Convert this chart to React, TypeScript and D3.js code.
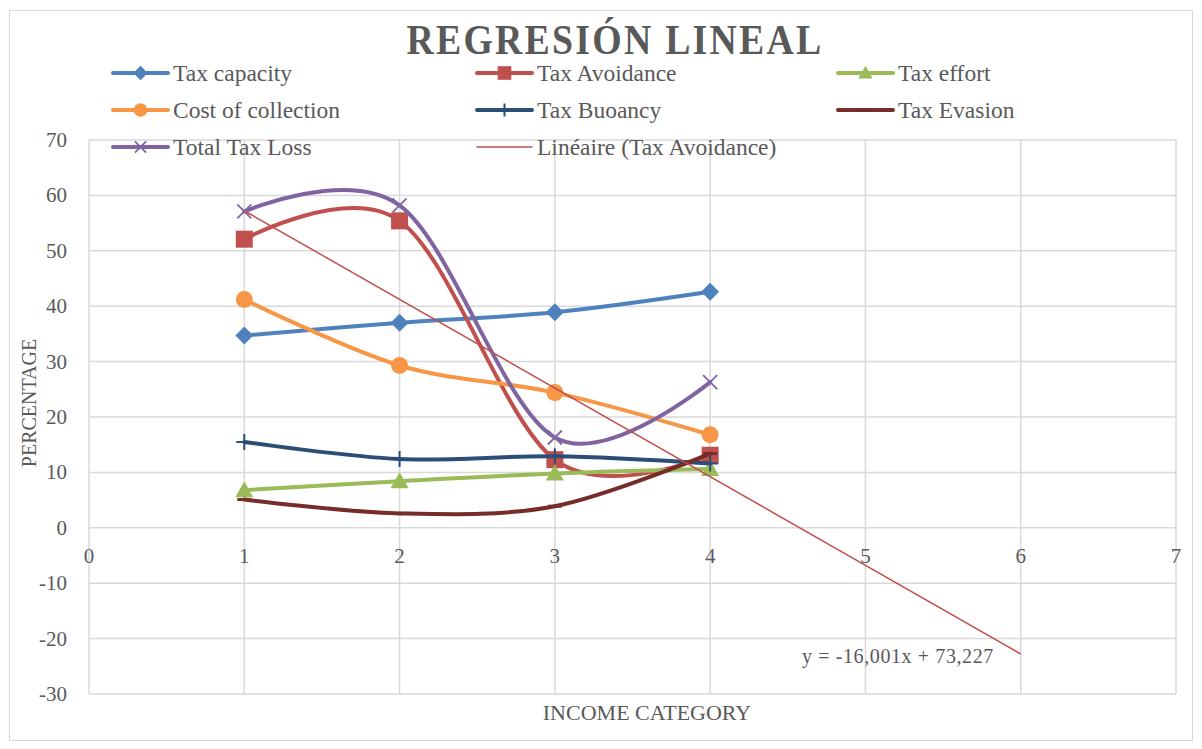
import React from "react";
import * as d3 from "d3";

const categories = [1, 2, 3, 4];
const taxCapacity = [34.7, 37.0, 38.9, 42.6];
const taxAvoidance = [52.1, 55.4, 12.3, 13.1];
const taxEffort = [6.8, 8.4, 9.8, 10.6];
const costOfCollection = [41.2, 29.3, 24.4, 16.8];
const taxBuoancy = [15.5, 12.4, 12.9, 11.6];
const taxEvasion = [5.1, 2.6, 3.9, 13.4];
const totalTaxLoss = [57.1, 58.2, 16.3, 26.3];
const xTicks = [0, 1, 2, 3, 4, 5, 6, 7];
const yTicks = [70, 60, 50, 40, 30, 20, 10, 0, -10, -20, -30];
const trendSlope = -16.001;
const trendIntercept = 73.227;
const trendRange = [1, 6];

type Marker = "diamond" | "square" | "triangle" | "circle" | "plus" | "dash" | "x" | "none";
interface Series { name: string; values: number[]; color: string; marker: Marker; }

const series: Series[] = [
  { name: "Tax capacity", values: taxCapacity, color: "#4f81bd", marker: "diamond" },
  { name: "Tax Avoidance", values: taxAvoidance, color: "#c0504d", marker: "square" },
  { name: "Tax effort", values: taxEffort, color: "#9bbb59", marker: "triangle" },
  { name: "Cost of collection", values: costOfCollection, color: "#f79646", marker: "circle" },
  { name: "Tax Buoancy", values: taxBuoancy, color: "#2c4d75", marker: "plus" },
  { name: "Tax Evasion", values: taxEvasion, color: "#772c2a", marker: "dash" },
  { name: "Total Tax Loss", values: totalTaxLoss, color: "#8064a2", marker: "x" },
];

const FONT = "'Liberation Serif', 'DejaVu Serif', serif";
const TXT = "#595959";

function MarkerShape({ type, x, y, color, s = 1 }: { type: Marker; x: number; y: number; color: string; s?: number }) {
  switch (type) {
    case "diamond":
      return <path d={`M${x},${y - 9 * s}L${x + 9 * s},${y}L${x},${y + 9 * s}L${x - 9 * s},${y}Z`} fill={color} />;
    case "square":
      return <rect x={x - 8.5 * s} y={y - 8.5 * s} width={17 * s} height={17 * s} fill={color} />;
    case "triangle":
      return <path d={`M${x},${y - 9 * s}L${x + 9 * s},${y + 7 * s}L${x - 9 * s},${y + 7 * s}Z`} fill={color} />;
    case "circle":
      return <circle cx={x} cy={y} r={8.5 * s} fill={color} />;
    case "plus":
      return <path d={`M${x - 8 * s},${y}H${x + 8 * s}M${x},${y - 8 * s}V${y + 8 * s}`} stroke={color} strokeWidth={2} />;
    case "dash":
      return <path d={`M${x - 7 * s},${y}H${x + 7 * s}`} stroke={color} strokeWidth={3} />;
    case "x":
      return <path d={`M${x - 7 * s},${y - 7 * s}L${x + 7 * s},${y + 7 * s}M${x + 7 * s},${y - 7 * s}L${x - 7 * s},${y + 7 * s}`} stroke={color} strokeWidth={1.8} />;
    default:
      return null;
  }
}

export default function App() {
  const W = 1202, H = 749;
  const x = d3.scaleLinear().domain([0, 7]).range([89, 1176]);
  const y = d3.scaleLinear().domain([-30, 70]).range([694, 140]);
  const line = d3.line<[number, number]>().x(d => x(d[0])).y(d => y(d[1])).curve(d3.curveCatmullRom.alpha(0));

  const legendCols = [113, 477, 838];
  const legendRows = [73, 110, 147];
  const legendItems: { name: string; color: string; marker: Marker; width: number }[] = [
    ...series.map(s => ({ name: s.name, color: s.color, marker: s.marker, width: 4 })),
    { name: "Linéaire (Tax Avoidance)", color: "#c0504d", marker: "none" as Marker, width: 1.5 },
  ];

  return (
    <svg width={W} height={H} style={{ position: "absolute", left: 0, top: 0 }}>
      <rect x={0} y={0} width={W} height={H} fill="#fff" />
      <rect x={9.5} y={10.5} width={1183} height={730} fill="#fff" stroke="#d9d9d9" strokeWidth={1} />
      {/* gridlines */}
      {yTicks.map(t => (
        <line key={"gy" + t} x1={x(0)} x2={x(7)} y1={y(t)} y2={y(t)} stroke="#d9d9d9" strokeWidth={1.5} />
      ))}
      {xTicks.map(t => (
        <line key={"gx" + t} x1={x(t)} x2={x(t)} y1={y(70)} y2={y(-30)} stroke="#d9d9d9" strokeWidth={1.5} />
      ))}
      {/* y tick labels */}
      {yTicks.map(t => (
        <text key={"ty" + t} x={67} y={y(t) + 7} textAnchor="end" fontFamily={FONT} fontSize={21} fill={TXT}>{t}</text>
      ))}
      {/* x tick labels */}
      {xTicks.map(t => (
        <text key={"tx" + t} x={x(t)} y={y(0) + 35} textAnchor="middle" fontFamily={FONT} fontSize={21} fill={TXT}>{t}</text>
      ))}
      {/* series */}
      {series.map(s => (
        <g key={s.name}>
          <path d={line(categories.map((c, i) => [c, s.values[i]] as [number, number])) || ""} fill="none" stroke={s.color} strokeWidth={4} strokeLinecap="round" />
          {categories.map((c, i) => (
            <MarkerShape key={i} type={s.marker} x={x(c)} y={y(s.values[i])} color={s.color} />
          ))}
        </g>
      ))}
      {/* trendline */}
      <line x1={x(trendRange[0])} y1={y(trendSlope * trendRange[0] + trendIntercept)} x2={x(trendRange[1])} y2={y(trendSlope * trendRange[1] + trendIntercept)} stroke="#c0504d" strokeWidth={1.5} />
      <text x={898} y={663} textAnchor="middle" fontFamily={FONT} fontSize={20} letterSpacing={0.6} fill={TXT}>y = -16,001x + 73,227</text>
      {/* axis titles */}
      <text x={647} y={720} textAnchor="middle" fontFamily={FONT} fontSize={22} fill={TXT}>INCOME CATEGORY</text>
      <text transform={`translate(36,403) rotate(-90)`} textAnchor="middle" fontFamily={FONT} fontSize={20} fill={TXT}>PERCENTAGE</text>
      {/* title */}
      <text transform="translate(615,54) scale(0.9,1)" textAnchor="middle" fontFamily={FONT} fontSize={42} fontWeight="bold" letterSpacing={2.5} fill={TXT}>REGRESIÓN LINEAL</text>
      {/* legend */}
      {legendItems.map((it, i) => {
        const cx = legendCols[i % 3];
        const cy = legendRows[Math.floor(i / 3)];
        return (
          <g key={it.name}>
            <line x1={cx} x2={cx + 55} y1={cy} y2={cy} stroke={it.color} strokeWidth={it.width} strokeLinecap="round" />
            <MarkerShape type={it.marker} x={cx + 27.5} y={cy} color={it.color} s={0.8} />
            <text x={cx + 60} y={cy + 8} fontFamily={FONT} fontSize={23.5} fill={TXT}>{it.name}</text>
          </g>
        );
      })}
    </svg>
  );
}
